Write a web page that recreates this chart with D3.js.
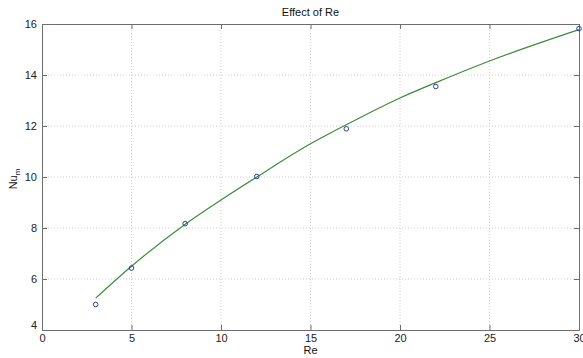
<!DOCTYPE html>
<html>
<head>
<meta charset="utf-8">
<script src="https://cdn.jsdelivr.net/npm/d3@7"></script>
<style>
  body { margin: 0; background: #fff; }
  svg { display: block; font-family: "Liberation Sans", Arial, sans-serif; }
</style>
</head>
<body>
<svg width="583" height="358"></svg>
<script>
// measured points
var reData = [3, 5, 8, 12, 17, 22, 30];
var nuData = [5.0, 6.43, 8.17, 10.02, 11.89, 13.55, 15.82];

// fitted curve
var reFit = [3, 5, 8, 10, 12, 15, 17, 20, 22, 25, 30];
var nuFit = [5.25, 6.5, 8.15, 9.1, 10.0, 11.3, 12.05, 13.1, 13.7, 14.55, 15.78];

var xTicks = [0, 5, 10, 15, 20, 25, 30];
var yTicks = [4, 6, 8, 10, 12, 14, 16];

var plotLeft = 42, plotRight = 579, plotTop = 24, plotBottom = 330;

var svg = d3.select('svg');

var x = d3.scaleLinear().domain([0, 30]).range([plotLeft, plotRight]);
var y = d3.scaleLinear().domain([4, 16]).range([plotBottom, plotTop]);

// grid
svg.append('g').selectAll('line').data(xTicks.slice(1, -1)).join('line')
    .attr('x1', d => x(d)).attr('x2', d => x(d))
    .attr('y1', plotTop).attr('y2', plotBottom)
    .attr('stroke', '#d0d0d0').attr('stroke-dasharray', '1,2');
svg.append('g').selectAll('line').data(yTicks.slice(1, -1)).join('line')
    .attr('y1', d => y(d)).attr('y2', d => y(d))
    .attr('x1', plotLeft).attr('x2', plotRight)
    .attr('stroke', '#d0d0d0').attr('stroke-dasharray', '1,2');

// axes, ticks pointing inside like matlab
var xAxis = svg.append('g').attr('transform', 'translate(0,' + plotBottom + ')')
    .call(d3.axisBottom(x).tickValues(xTicks).tickSize(-5).tickPadding(4).tickSizeOuter(0));
var yAxis = svg.append('g').attr('transform', 'translate(' + plotLeft + ',0)')
    .call(d3.axisLeft(y).tickValues(yTicks).tickSize(-5).tickPadding(5).tickSizeOuter(0));
svg.append('g').attr('transform', 'translate(0,' + plotTop + ')')
    .call(d3.axisTop(x).tickValues(xTicks).tickSize(-5).tickFormat('').tickSizeOuter(0));
svg.append('g').attr('transform', 'translate(' + plotRight + ',0)')
    .call(d3.axisRight(y).tickValues(yTicks).tickSize(-5).tickFormat('').tickSizeOuter(0));

svg.selectAll('.domain, .tick line').attr('stroke', '#6e6e6e');
svg.selectAll('.tick text').attr('fill', '#222').style('font-size', '11px')
    .style('font-family', '"Liberation Sans", Arial, sans-serif');
yAxis.selectAll('.tick').filter(d => d === 4).select('text').attr('dy', '-0.1em');

// fitted curve
var line = d3.line()
    .x((d, i) => x(reFit[i]))
    .y(d => y(d))
    .curve(d3.curveMonotoneX);
svg.append('path').datum(nuFit)
    .attr('d', line)
    .attr('fill', 'none')
    .attr('stroke', '#3d8a3d')
    .attr('stroke-width', 1.2);

// data markers
svg.append('g').selectAll('circle').data(nuData).join('circle')
    .attr('cx', (d, i) => x(reData[i]))
    .attr('cy', d => y(d))
    .attr('r', 2.3)
    .attr('fill', 'none')
    .attr('stroke', '#2b3f9a')
    .attr('stroke-width', 1);

// labels
svg.append('text').attr('x', (plotLeft + plotRight) / 2).attr('y', 16)
    .attr('text-anchor', 'middle').style('font-size', '11px').attr('fill', '#111')
    .text('Effect of Re');
svg.append('text').attr('x', (plotLeft + plotRight) / 2).attr('y', 354)
    .attr('text-anchor', 'middle').style('font-size', '11px').attr('fill', '#111')
    .text('Re');
var yl = svg.append('text').attr('transform', 'translate(17,' + ((plotTop + plotBottom) / 2 + 2) + ') rotate(-90)')
    .attr('text-anchor', 'middle').style('font-size', '11px').attr('fill', '#111');
yl.append('tspan').text('Nu');
yl.append('tspan').attr('dy', 3).style('font-size', '8px').text('m');
</script>
</body>
</html>
